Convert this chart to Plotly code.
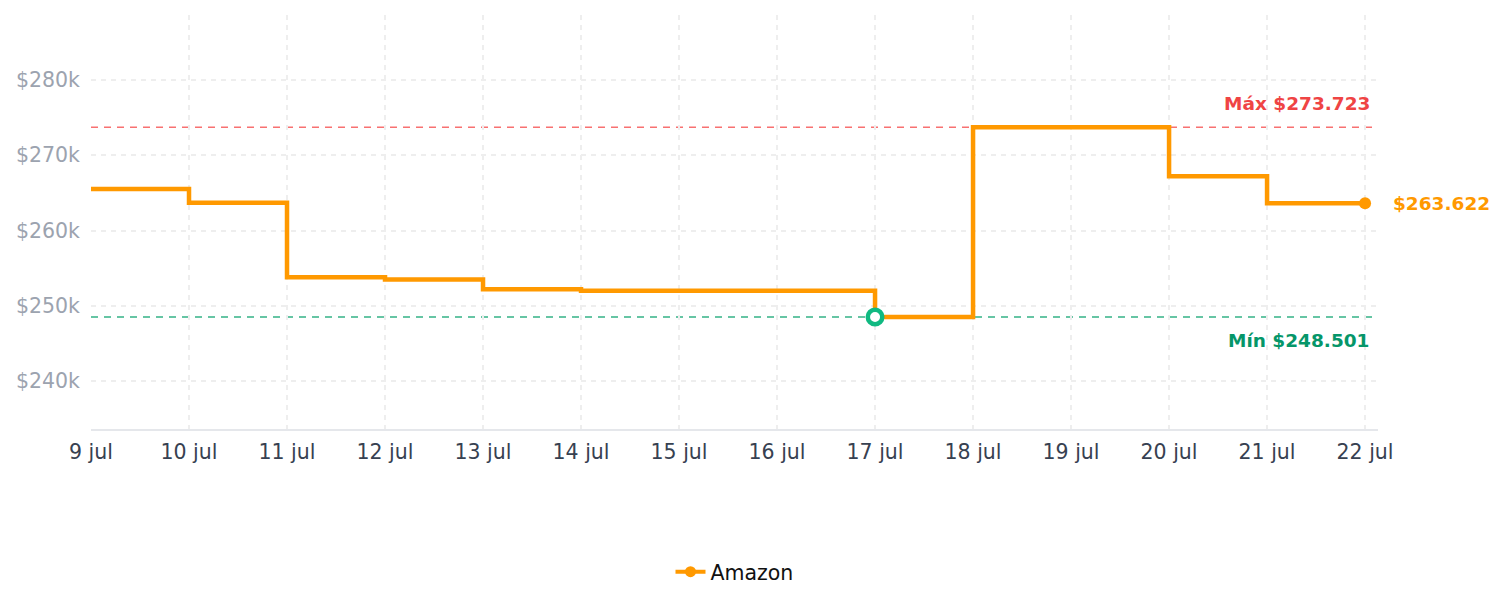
import plotly.graph_objects as go

dates = ["2024-07-09", "2024-07-10", "2024-07-11", "2024-07-12", "2024-07-13", "2024-07-14", "2024-07-15",
         "2024-07-16", "2024-07-17", "2024-07-18", "2024-07-19", "2024-07-20", "2024-07-21", "2024-07-22"]
prices = [265500, 263700, 253800, 253500, 252200, 252000, 252000,
          252000, 248501, 273723, 273723, 267200, 263622, 263622]
tick_labels = ["9 jul", "10 jul", "11 jul", "12 jul", "13 jul", "14 jul", "15 jul",
               "16 jul", "17 jul", "18 jul", "19 jul", "20 jul", "21 jul", "22 jul"]
y_ticks = [240000, 250000, 260000, 270000, 280000]
y_tick_labels = ["$240k", "$250k", "$260k", "$270k", "$280k"]
series_name = "Amazon"
max_val = 273723
min_val = 248501
min_date = "2024-07-17"
last_date = dates[-1]
last_val = prices[-1]

ORANGE = "#ff9900"
FONT = "DejaVu Sans"

fig = go.Figure()
fig.add_trace(go.Scatter(
    x=dates, y=prices, mode="lines", line=dict(color=ORANGE, width=4.5, shape="hv"),
    name=series_name, showlegend=False, hoverinfo="skip"))
# legend entry
fig.add_trace(go.Scatter(
    x=[None], y=[None], mode="lines+markers", line=dict(color=ORANGE, width=4),
    marker=dict(color=ORANGE, size=11), name=series_name, showlegend=True))

# reference lines
fig.add_shape(type="line", xref="paper", x0=0, x1=1, yref="y", y0=max_val, y1=max_val,
              layer="between", line=dict(color="#f87171", width=1.5, dash="7px,6px"))
fig.add_shape(type="line", xref="paper", x0=0, x1=1, yref="y", y0=min_val, y1=min_val,
              layer="between", line=dict(color="#34b386", width=1.5, dash="7px,6px"))

# min marker
fig.add_trace(go.Scatter(
    x=[min_date], y=[min_val], mode="markers", showlegend=False, hoverinfo="skip",
    marker=dict(color="white", size=14.5, line=dict(color="#10b981", width=4.5))))
# last point marker
fig.add_trace(go.Scatter(
    x=[last_date], y=[last_val], mode="markers", showlegend=False, hoverinfo="skip",
    marker=dict(color=ORANGE, size=12)))

fig.add_annotation(xref="paper", x=0.995, yref="y", y=max_val, yshift=24,
                   text="<b>Máx $273.723</b>", showarrow=False, xanchor="right",
                   font=dict(family=FONT, size=18.5, color="#ef4444"))
fig.add_annotation(xref="paper", x=0.995, yref="y", y=min_val, yshift=-23,
                   text="<b>Mín $248.501</b>", showarrow=False, xanchor="right",
                   font=dict(family=FONT, size=18.5, color="#059669"))
fig.add_annotation(x=last_date, y=last_val, xshift=26, text="<b>$263.622</b>",
                   showarrow=False, xanchor="left",
                   font=dict(family=FONT, size=18.5, color=ORANGE))

fig.update_layout(
    width=1505, height=607,
    margin=dict(l=91, r=127, t=15, b=178),
    paper_bgcolor="white", plot_bgcolor="white",
    font=dict(family=FONT),
    legend=dict(orientation="h", x=0.5, xanchor="center", xref="paper", y=-0.345, yanchor="middle",
                font=dict(family=FONT, size=20.5, color="#111111")),
    xaxis=dict(
        range=["2024-07-09", "2024-07-22 03:10"],
        tickvals=dates, ticktext=tick_labels,
        showgrid=True, gridcolor="#eeeeee", griddash="5px,5px", gridwidth=1.5,
        showline=True, linecolor="#e5e7eb", linewidth=1.5,
        ticks="", ticklabelstandoff=4, tickfont=dict(family=FONT, size=20.5, color="#374151"),
        zeroline=False),
    yaxis=dict(
        range=[233620, 288640],
        tickvals=y_ticks, ticktext=y_tick_labels,
        showgrid=True, gridcolor="#eeeeee", griddash="5px,5px", gridwidth=1.5,
        showline=False, ticks="", ticklabelstandoff=10,
        tickfont=dict(family=FONT, size=20.5, color="#9ca3af"),
        zeroline=False),
)

fig.write_html("out.html")
